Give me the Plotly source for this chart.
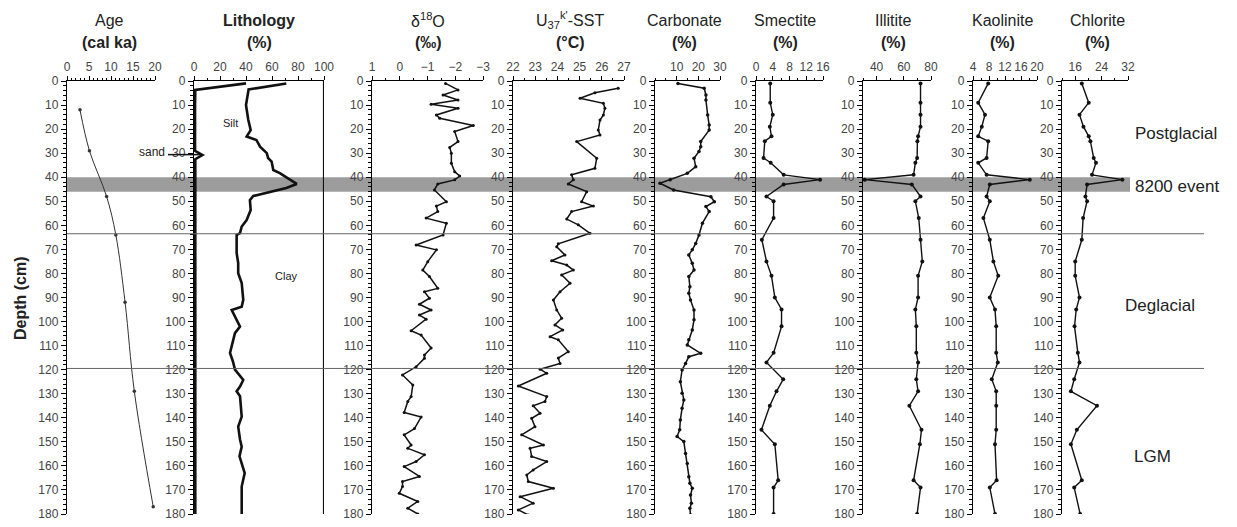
import plotly.graph_objects as go

W, H = 1237, 527

# ---------------- data ----------------
age_depth = [12, 29, 48, 64, 92, 129, 177]
age_ka = [2.95, 5.1, 9.0, 11.1, 13.2, 15.3, 19.6]

sand_depth = [1, 3.7, 10, 29, 30.8, 32.5, 40, 100, 180]
sand_pct = [40, 1, 0.8, 0.8, 6.5, 1, 1, 1, 1]

silt_depth = [1, 3.5, 10, 16, 20.4, 23.1, 24.5, 27.3, 30, 32, 33.5, 37, 38.3, 41.1, 42.8, 44.5,
              46.6, 47.8, 49.5, 53.6, 57.8, 60.5, 63.2, 64, 71.5, 75.7, 79.9, 84, 91, 93.8, 95.2,
              98, 102.1, 104.8, 113, 116.7, 120, 124.3, 127, 129, 131, 139.5, 143.7, 149, 152,
              156, 163, 168.6, 180]
silt_pct = [71, 42, 40, 41.7, 43.6, 40.5, 48, 50.8, 56, 57, 59.7, 61, 66, 74, 79, 71,
            56, 45.6, 43, 43.6, 40.5, 36.7, 35.4, 32.8, 32.8, 34, 34, 36.7, 37.9, 36.7, 29,
            31.5, 35.4, 31.5, 27.7, 30, 31.5, 37.9, 35.4, 32.8, 35.4, 36.7, 34, 35.4, 36.7,
            35, 39, 36.7, 36.7]

d18o_depth = [1, 3.7, 5.8, 7.9, 9.7, 11.3, 14.1, 15.5, 18.5, 21, 25.2, 27.6, 30, 34.2, 37.7,
              39.5, 41.1, 42.8, 45.3, 50.2, 52, 54.3, 57, 59.1, 64, 68.2, 70.2, 75.1, 78.6, 81.3,
              86.2, 87.6, 90.3, 92.8, 95.2, 97.3, 99, 103.8, 105.6, 111, 113.9, 115.3, 118.8,
              122.2, 126.4, 131.2, 133.2, 137.8, 139.7, 144.5, 147.1, 151.3, 152.7, 155.4, 158.2,
              160.3, 164.4, 166.5, 168.6, 171.4, 174.8, 177.6, 180]
d18o_val = [-1.65, -2.1, -1.56, -2.1, -1.13, -2.1, -1.32, -1.44, -2.65, -1.98, -2.1, -1.8, -1.86,
            -1.86, -1.98, -2.16, -1.98, -1.37, -1.25, -1.68, -1.32, -1.37, -0.95, -1.68, -1.56,
            -0.59, -1.32, -1.01, -0.83, -1.07, -1.37, -0.89, -1.07, -0.71, -1.13, -0.71, -0.95,
            -0.41, -0.77, -1.13, -0.89, -0.89, -0.59, -0.1, -0.47, -0.41, -0.29, -0.16, -0.77,
            -0.53, -0.16, -0.41, -0.29, -0.89, -0.59, -0.16, -0.71, -0.1, -0.1, 0.02, -0.65,
            -0.29, -0.65]

sst_depth = [3, 4.9, 7.2, 9.3, 11.3, 14.1, 16.2, 20.4, 22.4, 25.2, 32.1, 36.3, 39, 41.1, 42.8,
             46, 50.2, 52, 54.3, 57.4, 59.8, 63.3, 67.7, 68.9, 72.3, 74.7, 76.5, 78.6, 80.6, 84.1,
             87.6, 91, 95.2, 98.6, 101.4, 103.5, 106.3, 107.6, 112.5, 115.2, 117.4, 119.8, 121.5,
             126.8, 131.2, 133.2, 135, 138.1, 140.2, 143.7, 147.1, 151.3, 152.7, 156.1, 158.2,
             161.7, 163.8, 166.5, 169.3, 172.8, 175.5, 178.3, 180.4]
sst_val = [26.74, 25.69, 25.02, 26.07, 26.14, 26.07, 25.92, 25.84, 25.92, 24.87, 25.77, 25.69,
           24.64, 24.72, 24.49, 25.32, 25.09, 25.62, 24.64, 24.42, 24.94, 25.47, 24.04, 23.97,
           24.34, 23.74, 24.42, 24.72, 24.19, 24.57, 24.12, 23.82, 23.97, 24.19, 23.89, 24.24,
           23.67, 24.04, 24.49, 24.04, 24.12, 23.22, 23.52, 22.24, 23.52, 23.44, 22.91, 23.22,
           22.84, 22.99, 22.39, 23.37, 22.77, 22.84, 23.52, 22.91, 22.62, 22.69, 23.82, 22.32,
           22.91, 22.24, 22.69]

carb_depth = [1, 3, 5.8, 7.9, 14.1, 18.3, 20.4, 25.2, 27.3, 29.3, 32.1, 35.6, 38.4, 41.1, 42.5,
              45.3, 48.1, 50.2, 52.2, 54.3, 59.1, 64, 67.5, 70.2, 72.3, 75.8, 78.6, 81.3, 85.5,
              88.2, 91, 95.2, 99.3, 103.5, 107.6, 109.7, 113.2, 114.6, 117.4, 120.1, 125, 129.8,
              132.6, 136, 140.9, 145, 147.8, 149.9, 154.8, 159, 164.5, 167.2, 169.3, 172.1, 175.5,
              177.6, 180.4]
carb_val = [10.6, 22.7, 23.5, 23.5, 24.3, 25, 25, 21.1, 21.1, 20.3, 18, 18.8, 14.9, 7, 2.3,
            8.6, 25.8, 27.4, 23.5, 25, 21.9, 20.3, 18.8, 17.2, 15.6, 17.2, 18, 15.6, 16.1,
            15.6, 16.4, 18, 18, 17.2, 15.6, 14.9, 21.1, 15.6, 14.1, 12.5, 11.7, 12.5,
            13.3, 12.5, 11.7, 11.4, 10.2, 13.3, 14.1, 14.9, 15.6, 16.1, 17.2, 16.4, 16.8,
            16.1, 16.4]

clay_depth = [1, 9, 14, 19, 23, 25, 32, 34, 39, 41, 43, 48, 50, 57, 66, 75, 81, 90, 95, 102,
              113, 117, 124, 129, 135, 145, 151, 166, 169, 180]
smectite = [3.4, 3.4, 4.0, 3.3, 3.7, 2.1, 1.8, 3.5, 6.6, 15.3, 6.6, 2.5, 4.2, 4.2, 1.4, 2.5,
            3.7, 4.5, 6.1, 6.1, 4.2, 2.5, 6.5, 4.9, 3.3, 1.3, 4.5, 5.3, 4.2, 4.2]
illite = [72.3, 72.3, 72.3, 72.3, 70.5, 70.0, 69.8, 68.5, 67.2, 31.3, 65.9, 72.3, 68.5, 71.0,
          72.3, 73.6, 70.5, 70.5, 68.5, 69.2, 69.2, 70.5, 69.2, 70.5, 64.1, 73.0, 71.8, 67.2,
          72.3, 69.8]
kaolinite = [7.8, 5.3, 7.0, 6.2, 5.3, 7.8, 7.4, 5.3, 7.4, 18.2, 8.2, 7.4, 8.2, 6.6, 8.2, 9.1,
             10.3, 8.2, 9.5, 9.8, 9.8, 10.2, 8.7, 9.8, 9.8, 9.8, 9.5, 9.9, 8.2, 9.5]
chlorite = [18.0, 20.1, 17.3, 18.5, 20.1, 20.6, 21.6, 22.3, 21.1, 30.3, 19.6, 19.1, 19.6, 18.4,
            18.0, 16.0, 16.0, 17.3, 16.3, 15.8, 16.8, 17.3, 15.7, 14.7, 22.6, 16.5, 14.7, 18.0,
            15.7, 17.5]

event_band = [40, 46]          # 8200 event depth interval (cm)
boundaries = [63.5, 119.5]     # Postglacial/Deglacial, Deglacial/LGM

# ---------------- layout helpers ----------------
def px(x):
    return x / W

def py(y):
    return 1 - y / H

Y_TOP, Y_BOT = 81, 514
FONT = "Liberation Sans, Arial, sans-serif"

panels = [
    dict(x0=67, x1=155, rng=[0, 20], tv=[0, 5, 10, 15, 20], minor=1, t1="Age", t2="<b>(cal ka)</b>", tx=109),
    dict(x0=194, x1=324, rng=[0, 100], tv=[0, 20, 40, 60, 80, 100], minor=10, t1="<b>Lithology</b>", t2="<b>(%)</b>", tx=259),
    dict(x0=372, x1=483, rng=[1, -3], tv=[1, 0, -1, -2, -3], minor=0.5, t1="δ<sup>18</sup>O", t2="<b>(‰)</b>", tx=428),
    dict(x0=513, x1=624, rng=[22, 27], tv=[22, 23, 24, 25, 26, 27], minor=0.5, t1="U<sub>37</sub><sup>k'</sup>-SST", t2="<b>(°C)</b>", tx=570),
    dict(x0=655, x1=720, rng=[0, 30], tv=[10, 20, 30], minor=5, t1="Carbonate", t2="<b>(%)</b>", tx=684),
    dict(x0=756, x1=823, rng=[0, 16], tv=[0, 4, 8, 12, 16], minor=2, t1="Smectite", t2="<b>(%)</b>", tx=785),
    dict(x0=863, x1=931, rng=[30, 80], tv=[40, 60, 80], minor=10, t1="Illitite", t2="<b>(%)</b>", tx=893),
    dict(x0=973, x1=1037, rng=[4, 20], tv=[4, 8, 12, 16, 20], minor=2, t1="Kaolinite", t2="<b>(%)</b>", tx=1002),
    dict(x0=1062, x1=1128, rng=[12, 32], tv=[16, 24, 32], minor=4, t1="Chlorite", t2="<b>(%)</b>", tx=1097),
]

fig = go.Figure()

def add(i, x, y, width=1.3, marker=3, color="#111", shape="linear", mode="lines+markers"):
    sfx = "" if i == 1 else str(i)
    fig.add_trace(go.Scatter(
        x=x, y=y, xaxis="x" + sfx, yaxis="y" + sfx, mode=mode,
        line=dict(color=color, width=width, shape=shape),
        marker=dict(size=marker, color=color), showlegend=False, hoverinfo="skip"))

add(1, age_ka, age_depth, width=1, marker=3.5, color="#333", shape="spline")
add(2, sand_pct, sand_depth, width=2.6, mode="lines")
add(2, silt_pct, silt_depth, width=2.6, mode="lines")
add(2, [100, 100], [0, 180], width=2.2, mode="lines")
add(3, d18o_val, d18o_depth, width=1.5, marker=3)
add(4, sst_val, sst_depth, width=1.5, marker=3)
add(5, carb_val, carb_depth, width=1.5, marker=3.5)
add(6, smectite, clay_depth, width=1.4, marker=4)
add(7, illite, clay_depth, width=1.4, marker=4)
add(8, kaolinite, clay_depth, width=1.4, marker=4)
add(9, chlorite, clay_depth, width=1.4, marker=4)

layout = {}
for i, p in enumerate(panels, start=1):
    sfx = "" if i == 1 else str(i)
    layout["xaxis" + sfx] = dict(
        domain=[px(p["x0"]), px(p["x1"])], range=p["rng"], side="top",
        anchor="y" + sfx, showline=True, linecolor="black", linewidth=1.2,
        ticks="outside", ticklen=4, tickcolor="black", tickwidth=1,
        tickvals=p["tv"], showgrid=False, zeroline=False, automargin=False,
        tickfont=dict(size=12, color="#444", family=FONT),
        minor=dict(dtick=p["minor"], tick0=p["tv"][0], ticks="outside", ticklen=2, tickcolor="black"),
    )
    layout["yaxis" + sfx] = dict(
        domain=[py(Y_BOT), py(Y_TOP)], range=[180, 0], anchor="x" + sfx,
        showline=True, linecolor="black", linewidth=1.2, ticks="outside",
        ticklen=5, tickcolor="black", dtick=10, tick0=0, showgrid=False, zeroline=False,
        automargin=False, tickfont=dict(size=12, color="#444", family=FONT),
        minor=dict(dtick=2, ticks="outside", ticklen=2.5, tickcolor="black"),
    )

shapes = [
    dict(type="rect", xref="paper", yref="y", x0=px(67), x1=px(1130),
         y0=event_band[0], y1=event_band[1], fillcolor="#9c9c9c", line=dict(width=0), layer="below"),
]
for b in boundaries:
    shapes.append(dict(type="line", xref="paper", yref="y", x0=px(67), x1=px(1204),
                       y0=b, y1=b, line=dict(color="#666", width=1)))
# pointer from "sand" label to lithology column
shapes.append(dict(type="line", xref="paper", yref="y2", x0=px(168), x1=px(200),
                   y0=30.6, y1=30.6, line=dict(color="#111", width=1.5)))

annotations = []

def note(x, y, text, size, xanchor="center", bold=False, angle=0):
    annotations.append(dict(x=px(x), y=py(y), xref="paper", yref="paper",
                            text=("<b>%s</b>" % text) if bold else text, showarrow=False,
                            xanchor=xanchor, yanchor="middle", textangle=angle,
                            font=dict(size=size, color="#222", family=FONT)))

for p in panels:
    note(p["tx"], 20, p["t1"], 16)
    note(p["tx"], 42, p["t2"], 16)

note(20, 298, "Depth (cm)", 16, bold=True, angle=-90)
note(1176, 133, "Postglacial", 17)
note(1133, 186, "8200 event", 17, xanchor="left")
note(1160, 305, "Deglacial", 17)
note(1152, 456, "LGM", 17)
note(230, 123, "Silt", 11)
note(286, 276, "Clay", 11)
note(152, 152, "sand", 12)

fig.update_layout(
    width=W, height=H, margin=dict(l=0, r=0, t=0, b=0, autoexpand=False),
    paper_bgcolor="white", plot_bgcolor="rgba(0,0,0,0)",
    shapes=shapes, annotations=annotations, showlegend=False,
    font=dict(family=FONT), **layout)

fig.write_html("out.html", config={"displayModeBar": False, "staticPlot": True},
               post_script="document.body.style.margin='0';document.body.style.padding='0';")
